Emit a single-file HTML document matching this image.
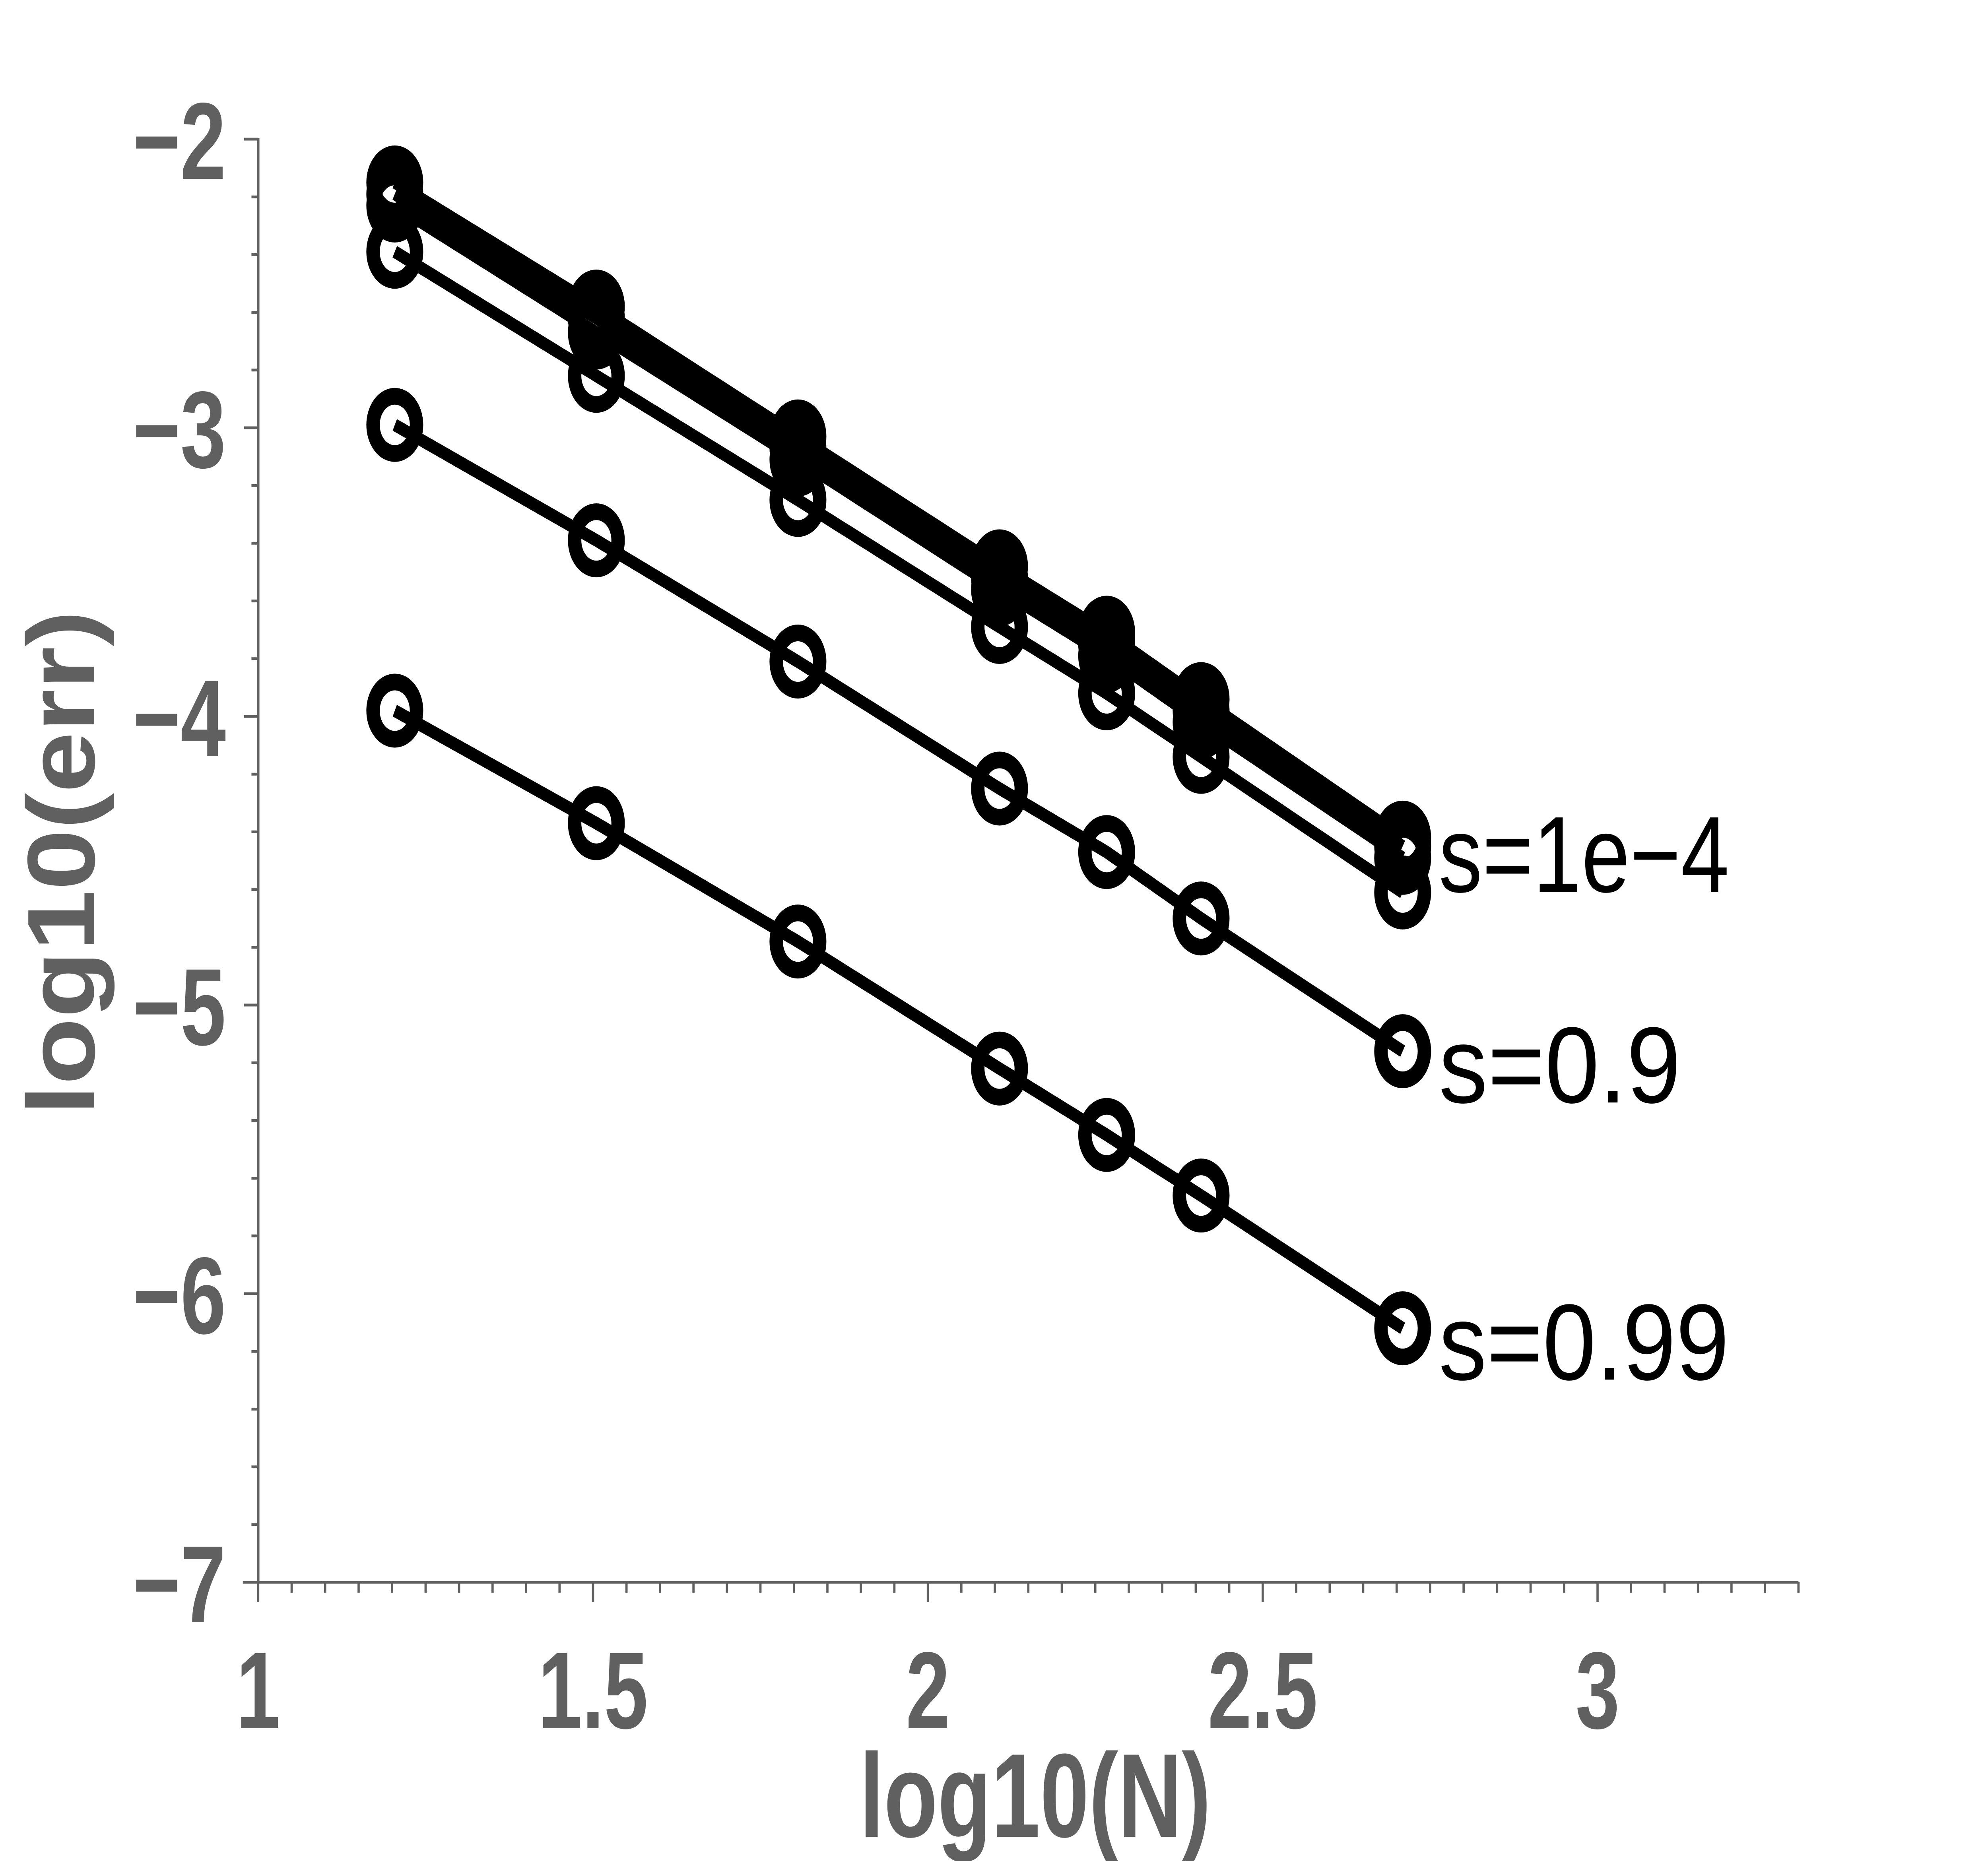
<!DOCTYPE html>
<html><head><meta charset="utf-8"><style>
html,body{margin:0;padding:0;background:#fff;width:100%;height:100%;overflow:hidden;}
svg{display:block;position:absolute;left:0;top:0;width:100vw;height:100vh;}
</style></head><body>
<svg id="chart" viewBox="0 0 6222 4681" preserveAspectRatio="none" xmlns="http://www.w3.org/2000/svg">
<rect x="0" y="0" width="6222" height="4681" fill="#fff"/>
<g id="axes"></g>
<g id="series"></g>
<g id="labels"></g>
</svg>
<script>
const xValues = [1.204, 1.505, 1.806, 2.107, 2.267, 2.408, 2.709];
const seriesA = [-2.15, -2.58, -3.03, -3.48, -3.71, -3.94, -4.42];
const seriesB = [-2.19, -2.62, -3.07, -3.52, -3.75, -3.98, -4.45];
const seriesC = [-2.23, -2.67, -3.11, -3.56, -3.79, -4.02, -4.49];
const seriesD = [-2.39, -2.82, -3.25, -3.69, -3.92, -4.14, -4.61];
const series09 = [-2.99, -3.39, -3.81, -4.25, -4.47, -4.70, -5.16];
const series099 = [-3.98, -4.37, -4.78, -5.22, -5.45, -5.66, -6.12];
const xTickLabels = ["1", "1.5", "2", "2.5", "3"];
const xTickValues = [1, 1.5, 2, 2.5, 3];
const yTickLabels = ["\u22122", "\u22123", "\u22124", "\u22125", "\u22126", "\u22127"];
const yTickValues = [-2, -3, -4, -5, -6, -7];
const annotationText = ["s=1e\u22124", "s=0.9", "s=0.99"];
const annotationY = [-4.47, -5.20, -6.16];

const NS = "http://www.w3.org/2000/svg";
const X0 = 808, XS = 2096, Y0 = 350, YS = 726;
function sx(v){ return X0 + (v - 1) * XS; }
function sy(v){ return Y0 + (-2 - v) * YS; }
function mk(tag, attrs, parent){
  const e = document.createElementNS(NS, tag);
  for (const k in attrs) e.setAttribute(k, attrs[k]);
  parent.appendChild(e);
  return e;
}
const axes = document.getElementById('axes');
const AX = '#606060';
let el;
el = mk('line', {x1: sx(1)-48, y1: sy(-7), x2: sx(3.3), y2: sy(-7), stroke: AX, 'stroke-width': 7}, axes);


el = mk('line', {x1: sx(1), y1: sy(-2)-3, x2: sx(1), y2: sy(-7), stroke: AX, 'stroke-width': 8}, axes);


for (let i = 0; i <= 46; i++) {
  const v = 1 + i * 0.05;
  const major = (i % 10 === 0);
  el = mk('line', {x1: sx(v), y1: sy(-7), x2: sx(v), y2: sy(-7) + (major ? 50 : 26), stroke: AX, 'stroke-width': 7}, axes);
  
  
}
for (let i = 0; i <= 25; i++) {
  const v = -2 - i * 0.2;
  const major = (i % 5 === 0);
  el = mk('line', {x1: sx(1) - (major ? 44 : 21), y1: sy(v), x2: sx(1), y2: sy(v), stroke: AX, 'stroke-width': 7}, axes);
  
  
}
const labels = document.getElementById('labels');
const FONT = '"Liberation Sans", Arial, sans-serif';
xTickLabels.forEach((t, i) => {
  const cx = sx(xTickValues[i]);
  el = mk('text', {x: 0, y: 0, 'text-anchor': 'middle', 'font-family': FONT, 'font-weight': 'bold', 'font-size': 275, fill: AX, transform: 'translate(' + cx + ',4347) scale(0.9,1)'}, labels);
  el.textContent = t;
  
  
});
yTickLabels.forEach((t, i) => {
  el = mk('text', {x: 0, y: 0, 'text-anchor': 'end', 'font-family': FONT, 'font-weight': 'bold', 'font-size': 275, fill: AX, transform: 'translate(707,' + (sy(yTickValues[i]) + 100) + ') scale(0.93,1)'}, labels);
  el.textContent = t;
  
  
});
el = mk('text', {x: 3240, y: 4620, 'text-anchor': 'middle', 'font-family': FONT, 'font-weight': 'bold', 'font-size': 300, fill: AX, textLength: 1100, lengthAdjust: 'spacingAndGlyphs'}, labels);
el.textContent = 'log10(N)';


el = mk('text', {x: 0, y: 0, 'text-anchor': 'middle', 'font-family': FONT, 'font-weight': 'bold', 'font-size': 300, fill: AX, textLength: 1270, lengthAdjust: 'spacingAndGlyphs', transform: 'translate(295,2170) rotate(-90)'}, labels);
el.textContent = 'log10(err)';



const seriesG = document.getElementById('series');
const allSeries = [seriesD, seriesC, seriesB, seriesA, series09, series099];
const seriesNames = ['series-s-small-d', 'series-s-small-c', 'series-s-small-b', 'series-s-1e-4', 'series-s-0.9', 'series-s-0.99'];
allSeries.forEach((ys, si) => {
  const g = mk('g', {}, seriesG);
  
  
  const pts = ys.map((y, i) => sx(xValues[i]) + ',' + sy(y)).join(' ');
  el = mk('polyline', {points: pts, fill: 'none', stroke: '#000', 'stroke-width': 32, 'stroke-linejoin': 'round'}, g);
  
  
  ys.forEach((y, i) => {
    el = mk('ellipse', {cx: sx(xValues[i]), cy: sy(y), rx: 68, ry: 72, fill: 'none', stroke: '#000', 'stroke-width': 42}, g);
    
    
  });
});
annotationText.forEach((t, i) => {
  el = mk('text', {x: 4503, y: sy(annotationY[i]) + 100, 'font-family': FONT, 'font-size': 272, fill: '#000', textLength: Math.round(909 * t.length / 6), lengthAdjust: 'spacingAndGlyphs'}, labels);
  el.textContent = t;
  
  
});
</script>
</body></html>
